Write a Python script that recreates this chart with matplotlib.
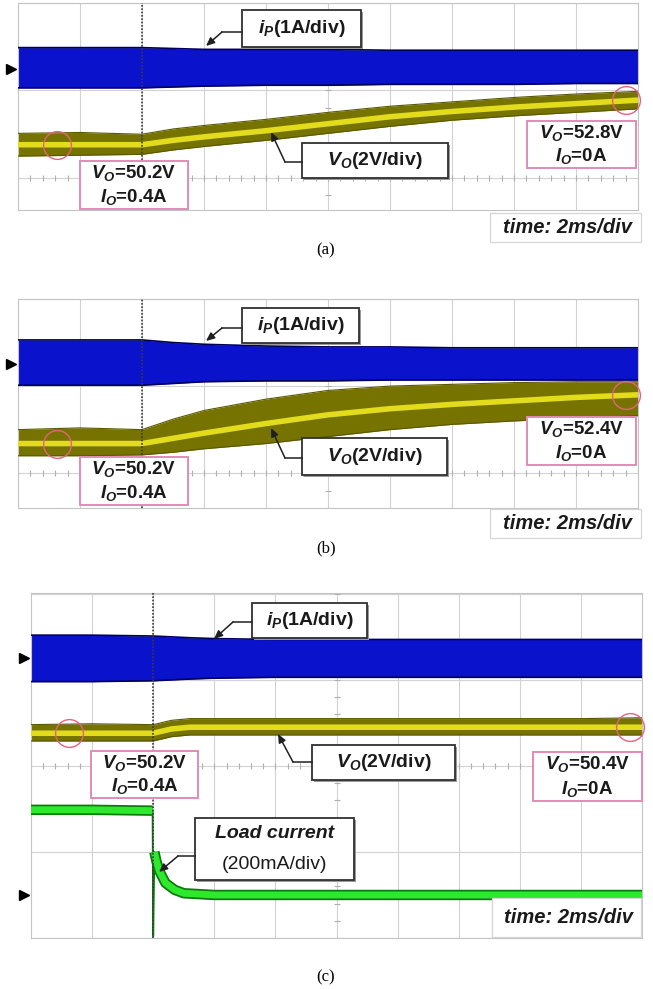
import numpy as np
import matplotlib
matplotlib.use('Agg')
import matplotlib.pyplot as plt
from matplotlib.patches import Rectangle
import matplotlib.patheffects as pe

plt.rcParams['font.family'] = ['Liberation Sans', 'DejaVu Sans']
plt.rcParams['mathtext.fontset'] = 'custom'
plt.rcParams['mathtext.it'] = 'Liberation Sans:bold:italic'
plt.rcParams['mathtext.rm'] = 'Liberation Sans:bold'

W, H = 653, 989
T_TRIG = 2.0   # trigger position (div), 2 ms/div

# ---------------- data, in scope divisions ----------------
# (a)
ta = [0, 1, 2, 2.5, 3, 4, 5, 6, 7, 8, 9, 10]
ip_a_hi = [1.49, 1.49, 1.49, 1.48, 1.47, 1.47, 1.47, 1.46, 1.46, 1.46, 1.46, 1.46]
ip_a_lo = [1.03, 1.03, 1.03, 1.04, 1.05, 1.06, 1.06, 1.07, 1.07, 1.07, 1.08, 1.08]
vo_a = [0.38, 0.38, 0.38, 0.43, 0.47, 0.54, 0.62, 0.70, 0.76, 0.81, 0.85, 0.89]
vo_a_hi = [0.51, 0.52, 0.50, 0.56, 0.60, 0.67, 0.75, 0.82, 0.87, 0.92, 0.96, 0.99]
vo_a_lo = [0.25, 0.26, 0.27, 0.32, 0.36, 0.43, 0.51, 0.59, 0.66, 0.71, 0.75, 0.79]

# (b)
tb = [0, 1, 2, 2.5, 3, 4, 5, 6, 7, 8, 9, 10]
ip_b_hi = [1.53, 1.53, 1.53, 1.50, 1.48, 1.46, 1.45, 1.45, 1.44, 1.44, 1.44, 1.44]
ip_b_lo = [1.01, 1.01, 1.01, 1.03, 1.05, 1.06, 1.06, 1.07, 1.07, 1.07, 1.07, 1.07]
vo_b = [0.34, 0.34, 0.34, 0.40, 0.46, 0.57, 0.67, 0.74, 0.79, 0.83, 0.87, 0.90]
vo_b_hi = [0.50, 0.52, 0.50, 0.62, 0.72, 0.85, 0.95, 1.00, 1.02, 1.04, 1.05, 1.05]
vo_b_lo = [0.20, 0.20, 0.21, 0.24, 0.28, 0.34, 0.42, 0.50, 0.56, 0.60, 0.63, 0.66]

# (c)
tc = [0, 1, 2, 2.3, 2.6, 3, 4, 5, 6, 7, 8, 9, 10]
ip_c_hi = [1.52, 1.52, 1.51, 1.50, 1.49, 1.48, 1.47, 1.47, 1.47, 1.47, 1.47, 1.47, 1.47]
ip_c_lo = [0.98, 0.98, 0.99, 1.00, 1.01, 1.02, 1.03, 1.03, 1.03, 1.03, 1.03, 1.03, 1.03]
vo_c = [0.38, 0.38, 0.38, 0.43, 0.45, 0.45, 0.45, 0.45, 0.45, 0.45, 0.45, 0.45, 0.45]
vo_c_hi = [0.48, 0.49, 0.48, 0.53, 0.55, 0.55, 0.55, 0.55, 0.55, 0.55, 0.55, 0.55, 0.56]
vo_c_lo = [0.29, 0.29, 0.29, 0.34, 0.36, 0.36, 0.36, 0.36, 0.36, 0.36, 0.36, 0.36, 0.36]
tl = [0, 1, 1.99, 2.0, 2.02, 2.05, 2.1, 2.2, 2.35, 2.5, 3, 5, 10]
load_c = [-0.51, -0.51, -0.52, -1.98, -1.00, -1.10, -1.22, -1.36, -1.44, -1.48, -1.50, -1.50, -1.50]

ip_ground = 1.25
load_ground = -1.5

BLUE = '#0b12cc'
BLUE_EDGE = '#00005a'
OLIVE = '#767300'
YELLOW = '#e2dc1c'
GREEN = '#2ee82e'
GREEN_EDGE = '#0a7a0a'
PINK = '#e48ab8'
CIRC = '#e2647c'
GRID = '#d2d2d2'

fig = plt.figure(figsize=(W / 100, H / 100), dpi=100)


def panel(l, t, r, b, ylim):
    ax = fig.add_axes([l / W, 1 - b / H, (r - l) / W, (b - t) / H])
    ax.set_xlim(0, 10)
    ax.set_ylim(*ylim)
    ax.set_xticks([])
    ax.set_yticks([])
    for s in ax.spines.values():
        s.set_color('#c4c4c4')
        s.set_linewidth(0.8)
    for x in range(1, 10):
        ax.axvline(x, color=GRID, lw=0.8, zorder=0)
    for y in range(int(np.ceil(ylim[0])), int(np.floor(ylim[1])) + 1):
        ax.axhline(y, color=GRID, lw=0.8, zorder=0)
    # centre graticule ticks
    ax.plot(np.arange(0, 10.01, 0.2), np.zeros(51), '|', color='#b0b0b0',
            ms=4, mew=0.8, zorder=0)
    ax.plot(np.full(41, 5.0), np.arange(-4, 4.01, 0.2), '_', color='#b0b0b0',
            ms=4, mew=0.8, zorder=0)
    ax.axvline(T_TRIG, color='#3a3a3a', lw=1.2, ls=(0, (1, 1)), zorder=6)
    return ax


def band(ax, t, lo, hi, fc, ec):
    ax.fill_between(t, lo, hi, color=fc, lw=0, zorder=2)
    ax.plot(t, hi, color=ec, lw=1.2, zorder=3)
    ax.plot(t, lo, color=ec, lw=1.2, zorder=3)


def vo_trace(ax, t, mid, lo, hi):
    ax.fill_between(t, lo, hi, color=OLIVE, lw=0, zorder=2)
    ax.plot(t, hi, color='#5a5800', lw=0.8, zorder=3)
    ax.plot(t, lo, color='#5a5800', lw=0.8, zorder=3)
    ax.plot(t, mid, color=YELLOW, lw=4.0, zorder=4, solid_capstyle='butt')
    ax.plot([0.63, 9.8], [mid[0], mid[-1]], 'o', ms=20, mfc='none',
            mec=CIRC, mew=1.0, zorder=5, clip_on=False)


def ground(ax, y):
    ax.plot([-0.12], [y], '>', color='black', ms=7, clip_on=False, zorder=7)


ax_a = panel(18, 3, 638, 210, (-0.366, 2.0))
band(ax_a, ta, ip_a_lo, ip_a_hi, BLUE, BLUE_EDGE)
vo_trace(ax_a, ta, vo_a, vo_a_lo, vo_a_hi)
ground(ax_a, ip_ground)

ax_b = panel(18, 299, 638, 508, (-0.40, 2.0))
band(ax_b, tb, ip_b_lo, ip_b_hi, BLUE, BLUE_EDGE)
vo_trace(ax_b, tb, vo_b, vo_b_lo, vo_b_hi)
ground(ax_b, ip_ground)

ax_c = panel(31, 593, 642, 938, (-2.0, 2.01))
band(ax_c, tc, ip_c_lo, ip_c_hi, BLUE, BLUE_EDGE)
vo_trace(ax_c, tc, vo_c, vo_c_lo, vo_c_hi)
# thin trace for the switching spike, thick band before and after it
ax_c.plot(tl, load_c, color=GREEN_EDGE, lw=1.3, zorder=4)
thick = dict(color=GREEN, lw=5, zorder=4, solid_capstyle='butt',
             path_effects=[pe.Stroke(linewidth=7.5, foreground=GREEN_EDGE), pe.Normal()])
ax_c.plot(tl[:3], load_c[:3], **thick)
ax_c.plot(tl[4:], load_c[4:], **thick)
ground(ax_c, ip_ground)
ground(ax_c, load_ground)

# ---------------- annotation overlay (pixel coordinates) ----------------
ov = fig.add_axes([0, 0, 1, 1])
ov.set_xlim(0, W)
ov.set_ylim(H, 0)
ov.axis('off')
ov.patch.set_alpha(0)
ov.set_zorder(10)


def label_box(x0, y0, x1, y1, lines, pink=False, fs=14):
    if pink:
        ov.add_patch(Rectangle((x0, y0), x1 - x0, y1 - y0, fc='white', ec=PINK, lw=1.4))
    else:
        ov.add_patch(Rectangle((x0 + 2, y0 + 2), x1 - x0, y1 - y0, fc='#9a9a9a', ec='none'))
        ov.add_patch(Rectangle((x0, y0), x1 - x0, y1 - y0, fc='white', ec='#303030', lw=1.3))
    n = len(lines)
    h = (y1 - y0) / n
    for i, ln in enumerate(lines):
        if isinstance(ln, tuple):
            s, kw = ln
        else:
            s, kw = ln, {}
        kw = dict(dict(fontweight='bold'), **kw)
        ov.text((x0 + x1) / 2, y0 + h * (i + 0.5), s, ha='center', va='center',
                fontsize=fs, color='#1a1a1a', **kw)


def leader(pts):
    xs, ys = zip(*pts)
    ov.plot(xs[:-1], ys[:-1], color='#202020', lw=1.1)
    ov.annotate('', xy=pts[-1], xytext=pts[-2],
                arrowprops=dict(arrowstyle='-|>,head_length=0.5,head_width=0.22',
                                color='#202020', lw=1.1, shrinkA=0, shrinkB=0))


def time_box(x0, y0, x1, y1):
    ov.add_patch(Rectangle((x0, y0), x1 - x0, y1 - y0, fc='white', ec='#d6d6d6', lw=0.9))
    ov.text((x0 + x1) / 2 + 2, (y0 + y1) / 2, 'time: 2ms/div', ha='center', va='center',
            fontsize=14.5, fontweight='bold', fontstyle='italic', color='#1a1a1a')


# (a)
leader([(242, 32), (222, 32), (206, 46)])
label_box(242, 10, 361, 47, [r'$i_P$(1A/div)'])
leader([(302, 162), (285, 162), (271, 132)])
label_box(302, 143, 448, 178, [r'$V_O$(2V/div)'])
label_box(80, 161, 188, 209, [r'$V_O$=50.2V', r'$I_O$=0.4A'], pink=True, fs=13.5)
label_box(527, 121, 636, 168, [r'$V_O$=52.8V', r'$I_O$=0A'], pink=True, fs=13.5)
time_box(490, 213, 641, 242)
ov.text(326, 250, '(a)', ha='center', va='center', fontsize=12, family='Liberation Serif')

# (b)
leader([(242, 328), (222, 328), (206, 341)])
label_box(242, 308, 359, 343, [r'$i_P$(1A/div)'])
leader([(302, 458), (285, 458), (271, 428)])
label_box(302, 438, 447, 475, [r'$V_O$(2V/div)'])
label_box(80, 457, 188, 505, [r'$V_O$=50.2V', r'$I_O$=0.4A'], pink=True, fs=13.5)
label_box(527, 417, 636, 465, [r'$V_O$=52.4V', r'$I_O$=0A'], pink=True, fs=13.5)
time_box(490, 509, 641, 538)
ov.text(326, 548, '(b)', ha='center', va='center', fontsize=12, family='Liberation Serif')

# (c)
leader([(252, 622), (233, 622), (214, 639)])
label_box(252, 603, 367, 638, [r'$i_P$(1A/div)'])
leader([(312, 762), (293, 762), (278, 734)])
label_box(312, 745, 455, 780, [r'$V_O$(2V/div)'])
label_box(91, 751, 198, 798, [r'$V_O$=50.2V', r'$I_O$=0.4A'], pink=True, fs=13.5)
label_box(533, 752, 642, 801, [r'$V_O$=50.4V', r'$I_O$=0A'], pink=True, fs=13.5)
leader([(195, 856), (178, 856), (159, 872)])
label_box(195, 818, 354, 880, [('Load current', dict(fontstyle='italic')),
                                ('(200mA/div)', dict(fontweight='normal'))])
time_box(492, 898, 641, 937)
ov.text(326, 977, '(c)', ha='center', va='center', fontsize=12, family='Liberation Serif')

fig.savefig('out.png', dpi=100)
